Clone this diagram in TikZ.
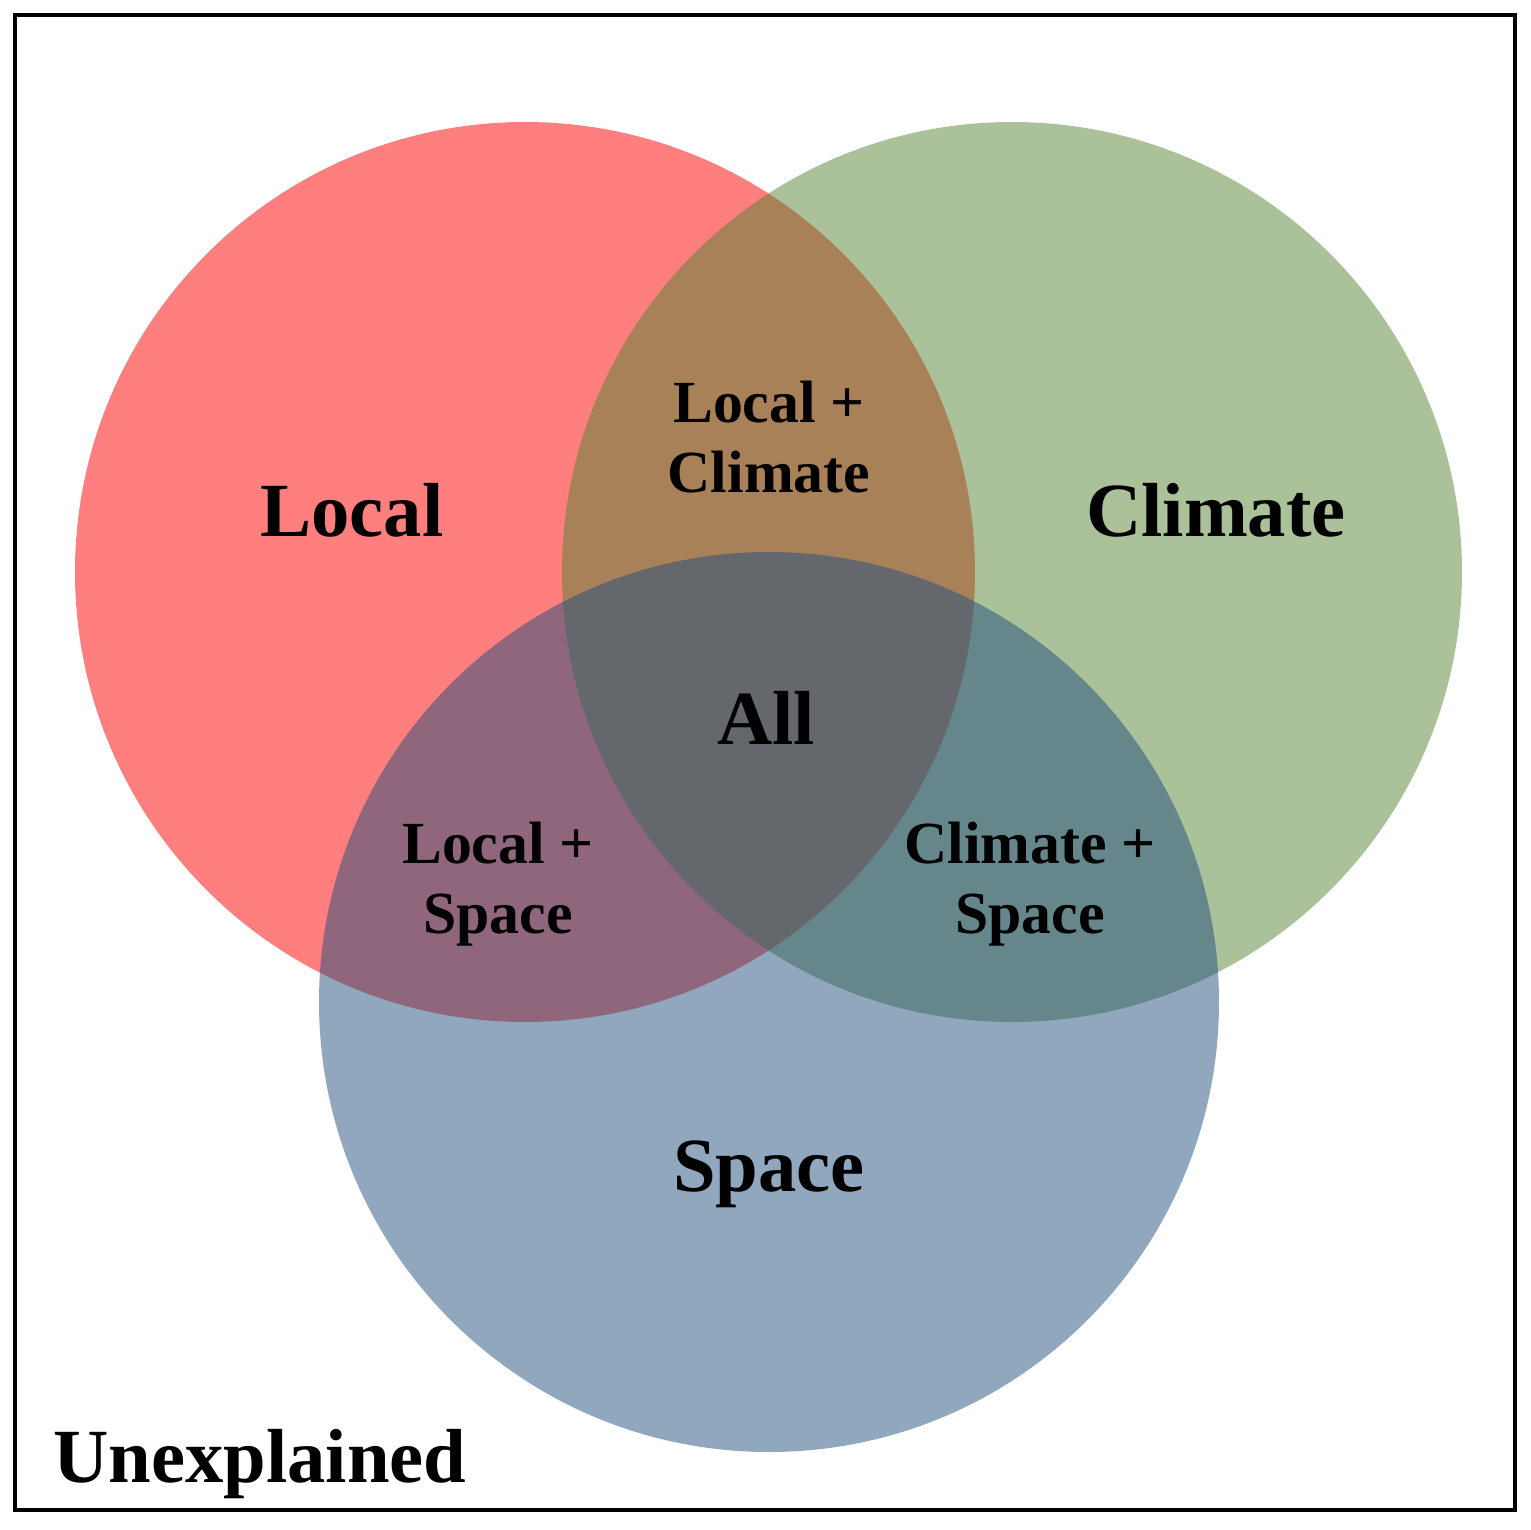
\documentclass[tikz,border=0pt]{standalone}
\usepackage{fontspec}
\setmainfont{Liberation Serif}
\usetikzlibrary{calc}
\definecolor{localred}{RGB}{255,0,0}
\definecolor{climgreen}{RGB}{85,131,53}
\definecolor{spaceblue}{RGB}{33,79,125}
\tikzset{
  setfill/.style={fill=#1,fill opacity=.5,draw=none},
  biglabel/.style={font=\fontsize{21.8}{25}\selectfont\bfseries},
  pairlabel/.style={font=\fontsize{17}{20}\selectfont\bfseries,align=center}
}
\begin{document}
\begin{tikzpicture}[x=.1mm,y=-.1mm]
 \useasboundingbox (0,0) rectangle (1530,1530);
 \draw[line width=.9pt] (15,15) rectangle (1515,1510);
 \fill[setfill=localred] (525,572) circle[radius=450];
 \fill[setfill=climgreen] (1012,572) circle[radius=450];
 \fill[setfill=spaceblue] (769,1002) circle[radius=450];
 \node[biglabel] (local) at (352,510) {Local};
 \node[biglabel] (climate) at (1216,510) {Climate};
 \node[biglabel] (space) at (769,1174) {Space};
 \node[biglabel] (all) at (766,718) {All};
 \node[pairlabel] (lc) at (769,437) {Local +\\Climate};
 \node[pairlabel] (ls) at (498,884) {Local +\\Space};
 \node[pairlabel] (cs) at (1030,884) {Climate +\\Space};
 \node[biglabel,anchor=west] (unexp) at (41,1464) {Unexplained};
\end{tikzpicture}
\end{document}
